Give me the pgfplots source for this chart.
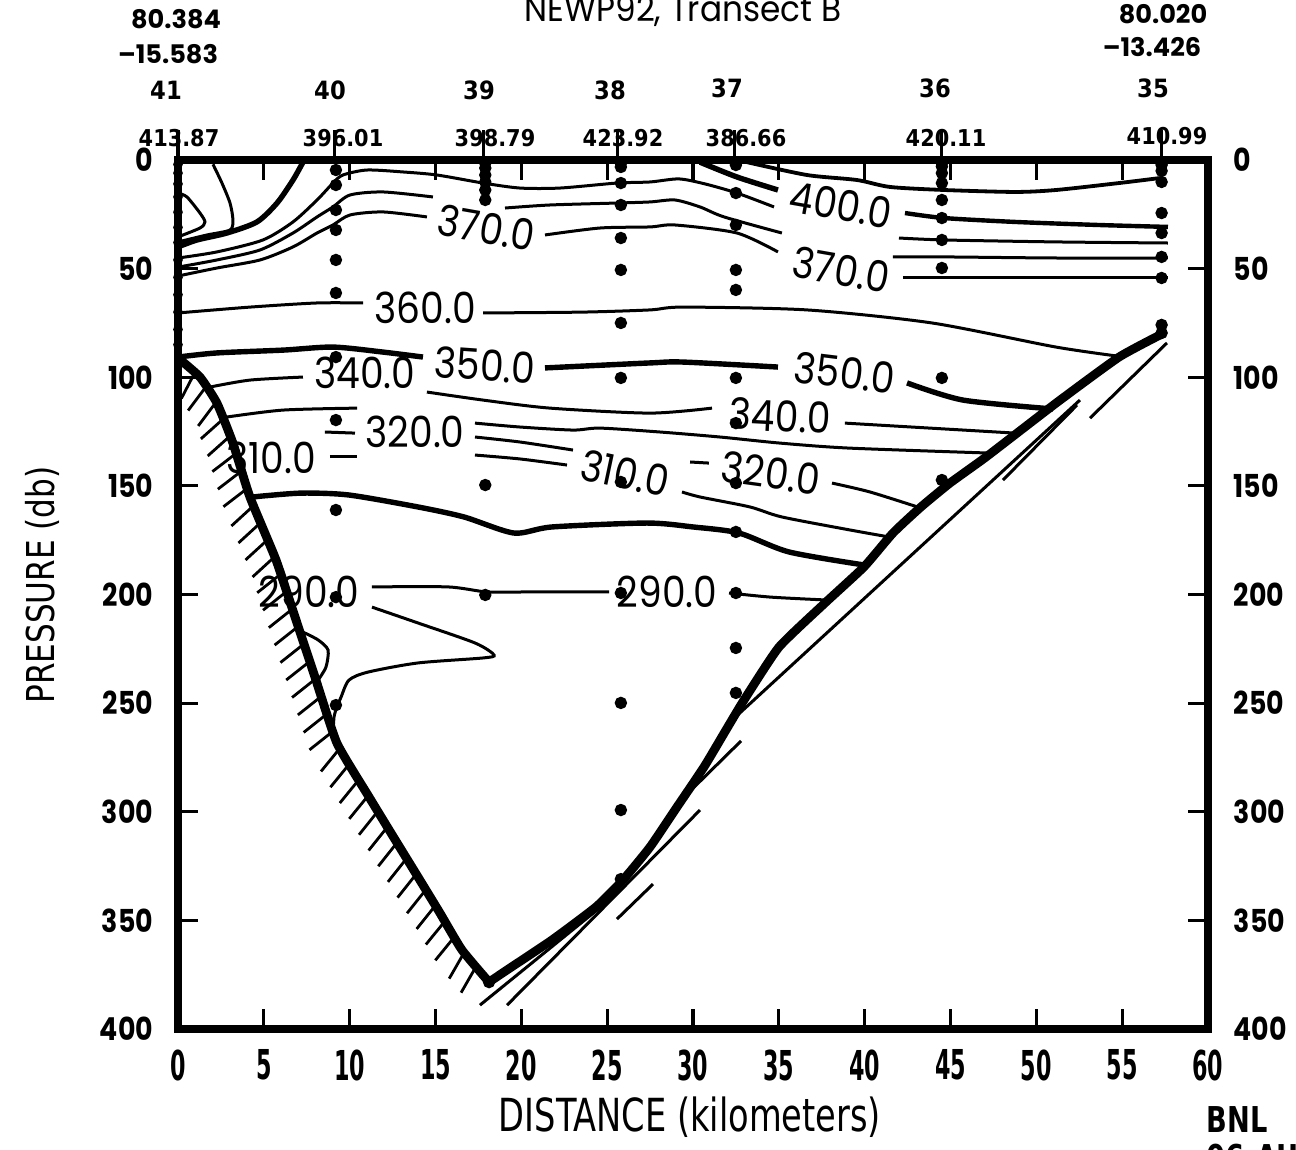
\documentclass[border=0pt]{standalone}
\usepackage{pgfplots}
\pgfplotsset{compat=1.18}
\usepackage{fontspec}
\setmainfont{DejaVu Sans}
\newfontfamily\cond{DejaVu Sans Condensed}
\newfontfamily\geo{Poppins}
\usetikzlibrary{decorations.pathreplacing}
\tikzset{
  cl/.style={black, line width=0.75pt, smooth, tension=0.45, no markers},
  clt/.style={black, line width=1.35pt, smooth, tension=0.45, no markers},
  thin/.style={black, line width=0.75pt, no markers},
  clab/.style={font=\geo\fontsize{10.7}{11}\selectfont, inner sep=0pt},
}
\newcommand{\cla}[1]{\scalebox{0.88}[1]{#1}}
\begin{document}
\begin{tikzpicture}
\useasboundingbox (-44.5pt,-30pt) rectangle (279.5pt,257.25pt);
\begin{axis}[
  at={(0pt,0pt)}, anchor=south west,
  scale only axis, width=257.5pt, height=217.25pt,
  xmin=0, xmax=60, ymin=0, ymax=400, y dir=reverse,
  clip=false,
  axis line style={line width=2pt, line cap=rect},
  xtick={0,5,...,60}, ytick={0,50,...,400},
  tick align=inside, major tick length=5pt,
  tick style={black, line width=0.8pt},
  /pgf/number format/assume math mode=true,
  xticklabel style={font=\cond\bfseries\fontsize{10.3}{11}\selectfont, inner sep=0pt, yshift=-5pt},
  xticklabel={\scalebox{0.6}[1]{\pgfmathprintnumber{\tick}}},
  yticklabel style={font=\geo\bfseries\fontsize{7.9}{8}\selectfont, inner sep=0pt, xshift=-6pt},
  yticklabel={\scalebox{0.85}[1]{\pgfmathprintnumber{\tick}}},
]
% ---- contour lines ----
\addplot[cl] coordinates {(0,15.2) (0.52,17.0) (1.28,24.4) (1.57,28.5) (1.28,31.3) (0,35.4)};
\addplot[cl] coordinates {(2.04,2.0) (2.56,10.6) (3.03,19.8) (3.20,27.6) (3.03,32.2) (1.69,34.5) (0,37.7)};
\addplot[clt] coordinates {(7.28,1.0) (6.70,9.2) (5.77,19.8) (4.60,28.5) (2.85,33.6) (1.11,36.8) (0,40.0)};
\addplot[cl] coordinates {(0,45.1) (2.27,42.3) (4.95,36.8) (6.70,28.5) (8.10,18.4) (9.03,10.6) (9.61,6.9) (11.01,4.6) (13.11,5.5) (15.09,6.9) (17.77,10.6) (19.92,12.9) (22.25,12.9) (25.57,10.6) (27.50,10.1) (29.18,8.7) (30.70,11.0) (32.56,15.2) (34.72,21.6)};
\addplot[clt] coordinates {(30.41,1.0) (32.56,7.8) (34.95,13.8)};
\addplot[cl, line width=0.95pt] coordinates {(33.15,1.0) (36.64,6.9) (39.55,9.2) (41.48,12.4) (44.62,13.8) (48.76,14.7) (51.15,13.8) (54.82,10.6) (57.20,8.3)};
\addplot[cl, line width=1.1pt] coordinates {(42.35,24.4) (44.62,26.7) (48.76,28.5) (53.59,29.9) (57.67,30.8)};
\addplot[cl] coordinates {(42.00,35.9) (44.62,36.8) (51.15,37.7) (57.67,38.2)};
\addplot[cl] coordinates {(41.65,44.6) (44.62,44.6) (51.15,45.1) (57.67,45.1)};
\addplot[cl] coordinates {(42.23,54.3) (48.76,54.3) (57.67,54.3)};
\addplot[cl] coordinates {(0,49.3) (2.27,46.0) (4.78,41.4) (6.70,33.6) (8.10,26.2) (9.03,21.6) (10.02,16.1) (11.94,14.7) (14.85,17.0)};
\addplot[cl] coordinates {(19.05,22.1) (21.67,20.7) (25.57,19.8) (27.50,19.3) (28.95,18.4) (30.41,21.6) (31.81,26.2) (35.18,33.6)};
\addplot[cl] coordinates {(0,53.4) (2.27,49.7) (4.78,46.0) (6.70,40.0) (8.10,33.6) (9.03,29.9) (10.02,25.3) (11.94,23.9) (14.50,26.2)};
\addplot[cl] coordinates {(21.38,34.5) (24.58,31.3) (27.50,30.8) (28.95,29.9) (32.56,33.6) (34.95,42.3)};
\addplot[cl] coordinates {(0,70.4) (4.19,67.7) (8.10,65.8) (10.78,65.8)};
\addplot[cl] coordinates {(17.77,70.4) (23.59,70.0) (27.50,69.0) (29.42,67.7) (36.64,69.0) (43.92,75.0) (51.15,86.1) (55.16,90.7)};
\addplot[clt] coordinates {(0,90.7) (2.27,88.8) (6.12,87.5) (9.03,86.1) (11.94,88.4) (14.27,90.7)};
\addplot[clt] coordinates {(21.38,95.7) (27.50,93.4) (29.42,93.0) (34.95,95.3)};
\addplot[clt] coordinates {(42.47,102.6) (45.73,110.5) (50.97,114.6)};
\addplot[cl] coordinates {(1.86,104.5) (4.19,101.3) (7.28,99.9)};
\addplot[cl] coordinates {(14.50,106.8) (17.77,110.5) (21.67,114.2) (27.50,116.5) (31.11,114.2)};
\addplot[cl] coordinates {(38.85,121.1) (48.76,125.7)};
\addplot[cl] coordinates {(2.85,118.3) (6.12,115.1) (10.43,114.2)};
\addplot[cl] coordinates {(17.30,121.1) (19.92,122.9) (23.01,124.3) (24.58,123.4) (28.08,125.2) (31.57,127.5) (35.07,130.3) (39.09,132.6) (47.30,134.9)};
\addplot[cl] coordinates {(17.30,127.5) (19.92,129.8) (23.01,133.5)};
\addplot[cl] coordinates {(17.30,135.8) (19.92,137.6) (22.66,140.4)};
\addplot[thin] coordinates {(8.56,125.2) (10.31,125.7)};
\addplot[thin] coordinates {(8.85,136.7) (10.43,136.7)};
\addplot[thin] coordinates {(29.83,139.0) (30.93,139.5)};
\addplot[cl] coordinates {(29.36,152.8) (30.41,155.1) (33.32,159.7) (35.18,164.3) (39.15,170.3) (41.42,173.5)};
\addplot[cl] coordinates {(38.10,148.7) (40.31,152.8) (43.28,160.2)};
\addplot[clt] coordinates {(4.19,155.3) (5.0,154.6) (7.28,153.3) (9.96,154.2) (13.98,159.7) (16.66,164.3) (19.57,171.7) (21.79,168.9) (27.32,167.1) (30.00,168.9) (32.68,171.7) (35.59,180.4) (39.96,186.4)};
\addplot[cl] coordinates {(11.30,196.5) (15.73,196.5) (18.00,198.8) (20.68,198.8) (25.11,198.8)};
\addplot[cl] coordinates {(32.10,199.3) (34.54,201.2) (37.69,202.5)};
\addplot[cl] coordinates {(11.30,205.8) (13.98,213.1) (17.30,222.3) (18.41,227.8) (17.77,229.2) (13.98,231.5) (11.07,235.7) (9.96,239.4) (9.50,247.2) (9.26,251.8) (9.09,256.4) (9.03,264.7)};
\addplot[cl] coordinates {(7.28,217.3) (8.16,220.9) (8.74,225.5) (8.62,233.4) (8.16,239.4)};
% ---- contour labels ----
\node[clab, rotate=-10] at (axis cs:17.94,31.3) {\cla{370.0}};
\node[clab, rotate=-10] at (axis cs:38.62,20.7) {\cla{400.0}};
\node[clab, rotate=-10] at (axis cs:38.62,50.6) {\cla{370.0}};
\node[clab] at (axis cs:14.39,68.1) {\cla{360.0}};
\node[clab, rotate=-4] at (axis cs:17.88,94.4) {\cla{350.0}};
\node[clab, rotate=-7] at (axis cs:38.85,98.0) {\cla{350.0}};
\node[clab] at (axis cs:10.89,98.0) {\cla{340.0}};
\node[clab, rotate=-3] at (axis cs:35.07,117.8) {\cla{340.0}};
\node[clab] at (axis cs:13.81,125.2) {\cla{320.0}};
\node[clab] at (axis cs:5.42,137.2) {\cla{310.0}};
\node[clab, rotate=-12] at (axis cs:26.04,144.1) {\cla{310.0}};
\node[clab, rotate=-8] at (axis cs:34.54,144.1) {\cla{320.0}};
\node[clab] at (axis cs:7.63,198.8) {\cla{290.0}};
\node[clab] at (axis cs:28.49,198.8) {\cla{290.0}};
% ---- station sample points ----
\addplot[only marks, mark=*, mark size=1.0pt, black] coordinates {
 (0,2) (0,6) (0,11) (0,17) (0,24) (0,31) (0,38) (0,46) (0,54) (0,62) (0,70) (0,78) (0,85)};
\addplot[only marks, mark=*, mark size=1.35pt, black] coordinates {
 (9.2,4.6) (9.2,11.5) (9.2,23.0) (9.2,32.2) (9.2,46.0) (9.2,61.2) (9.2,90.7) (9.2,119.7) (9.2,161.1) (9.2,201.2) (9.2,250.9)
 (17.9,1.5) (17.9,3.7) (17.9,6.9) (17.9,10.1) (17.9,13.8) (17.9,18.4) (17.9,149.6) (17.9,200.2)
 (25.8,1.5) (25.8,3.2) (25.8,10.6) (25.8,20.7) (25.8,35.9) (25.8,50.6) (25.8,75.0) (25.8,100.3) (25.8,148.2) (25.8,199.3) (25.8,249.9) (25.8,299.2) (25.8,331.0)
 (32.5,1.5) (32.5,2.3) (32.5,15.2) (32.5,29.9) (32.5,50.6) (32.5,59.8) (32.5,100.3) (32.5,121.1) (32.5,148.7) (32.5,171.2) (32.5,199.3) (32.5,224.6) (32.5,245.3)
 (44.5,1.5) (44.5,3.0) (44.5,6.0) (44.5,10.6) (44.5,18.4) (44.5,26.7) (44.5,36.8) (44.5,49.7) (44.5,100.3) (44.5,147.3)
 (57.3,1.5) (57.3,2.3) (57.3,5.0) (57.3,10.1) (57.3,24.4) (57.3,33.6) (57.3,44.6) (57.3,54.3) (57.3,75.9) (57.3,79.6)
 (18.12,378.4)
};
% ---- thin lines beside the right slope ----
\addplot[thin] coordinates {(17.59,389.0) (24.99,341.5)};
\addplot[thin] coordinates {(19.17,389.0) (30.41,299.2)};
\addplot[thin] coordinates {(25.57,349.4) (27.67,333.3)};
\addplot[thin] coordinates {(29.42,293.7) (32.80,267.4)};
\addplot[thin] coordinates {(32.10,259.1) (52.54,110.5)};
\addplot[thin] coordinates {(48.06,147.3) (52.37,112.8)};
\addplot[thin] coordinates {(53.13,118.8) (57.61,84.2)};
% ---- bottom ----
\addplot[black, line width=2.2pt, smooth, tension=0.3, no markers]
  coordinates {(0,91.1) (1.28,99.9) (2.27,111.9) (3.20,130.3) (4.19,155.1) (5.71,184.1) (6.82,210.4) (7.98,238.0) (9.26,268.4) (11.13,293.2) (12.41,309.8) (13.98,330.0) (15.26,346.6) (16.54,363.6) (18.12,378.4)};
\addplot[black, line width=0.7pt, no markers,
  decorate, decoration={border, segment length=4.6pt, amplitude=7.5pt, angle=-70}]
  coordinates {(1.0,97.5) (1.28,99.9) (2.27,111.9) (3.20,130.3) (4.19,155.1) (5.71,184.1) (6.82,210.4) (7.98,238.0) (9.26,268.4) (11.13,293.2) (12.41,309.8) (13.98,330.0) (15.26,346.6) (16.54,363.6) (18.12,378.4)};
\addplot[black, line width=2.2pt, smooth, tension=0.3, no markers]
  coordinates {(18.12,378.4) (19.17,372.8) (21.79,359.0) (24.35,343.8) (25.92,331.4) (27.50,316.2) (29.07,297.8) (30.64,279.4) (31.92,262.4) (32.97,248.6) (35.01,224.2) (37.69,203.9) (39.96,187.3) (41.65,171.7) (43.28,159.7) (44.97,148.7) (47.07,136.7) (51.15,111.9) (54.82,90.7) (57.44,79.6)};
% ---- station marks above the frame ----
\pgfplotsinvokeforeach{0,9.1,17.8,25.6,32.4,44.5,57.3}{
  \draw[line width=0.8pt] (axis cs:#1,0) -- (axis cs:#1,-13.8);
}
\end{axis}
\begin{scope}[x=0.25pt, y=-0.25pt, shift={(-44.5pt,257.25pt)}]
\node[font=\geo\fontsize{8.9}{9}\selectfont, anchor=base, inner sep=0pt] at (683,22) {\scalebox{0.92}[1]{NEWP92, Transect B}};
\begin{scope}[every node/.style={font=\geo\bfseries\fontsize{6.4}{7}\selectfont, inner sep=0pt}]
\node at (176,19) {80.384};
\node at (168,54) {–15.583};
\node at (1163,14) {80.020};
\node at (1152,47) {–13.426};
\end{scope}
\begin{scope}[every node/.style={font=\cond\bfseries\fontsize{6.3}{7}\selectfont, inner sep=0pt}]
\node at (166,90) {41};
\node at (330,90) {40};
\node at (479,90) {39};
\node at (610,90) {38};
\node at (727,88) {37};
\node at (935,88) {36};
\node at (1153,88) {35};
\end{scope}
\begin{scope}[every node/.style={font=\cond\bfseries\fontsize{5.8}{6}\selectfont, inner sep=0pt}]
\node at (179,138) {413.87};
\node at (343,138) {396.01};
\node at (495,138) {398.79};
\node at (623,138) {423.92};
\node at (746,138) {386.66};
\node at (946,138) {420.11};
\node at (1167,136) {410.99};
\end{scope}
\begin{scope}[every node/.style={font=\geo\bfseries\fontsize{7.9}{8}\selectfont, inner sep=0pt, anchor=west}]
\node at (1233,160) {\scalebox{0.85}[1]{0}};
\node at (1233,268.6) {\scalebox{0.85}[1]{50}};
\node at (1233,377.3) {\scalebox{0.85}[1]{100}};
\node at (1233,485.9) {\scalebox{0.85}[1]{150}};
\node at (1233,594.5) {\scalebox{0.85}[1]{200}};
\node at (1233,703.1) {\scalebox{0.85}[1]{250}};
\node at (1233,811.8) {\scalebox{0.85}[1]{300}};
\node at (1233,920.4) {\scalebox{0.85}[1]{350}};
\node at (1233,1029) {\scalebox{0.85}[1]{400}};
\end{scope}
\node[font=\cond\fontsize{9.6}{10}\selectfont, rotate=90, inner sep=0pt] at (42,585) {\scalebox{0.9}[1]{PRESSURE (db)}};
\node[font=\cond\fontsize{11.4}{12}\selectfont, inner sep=0pt] at (690,1117) {\scalebox{0.82}[1]{DISTANCE (kilometers)}};
\node[font=\cond\bfseries\fontsize{8.9}{9}\selectfont, anchor=west, inner sep=0pt] at (1206,1120) {\scalebox{0.85}[1]{BNL}};
\node[font=\cond\bfseries\fontsize{8.9}{9}\selectfont, anchor=west, inner sep=0pt] at (1206,1158) {\scalebox{0.85}[1]{06-AUG-93}};
\end{scope}
\end{tikzpicture}
\end{document}
